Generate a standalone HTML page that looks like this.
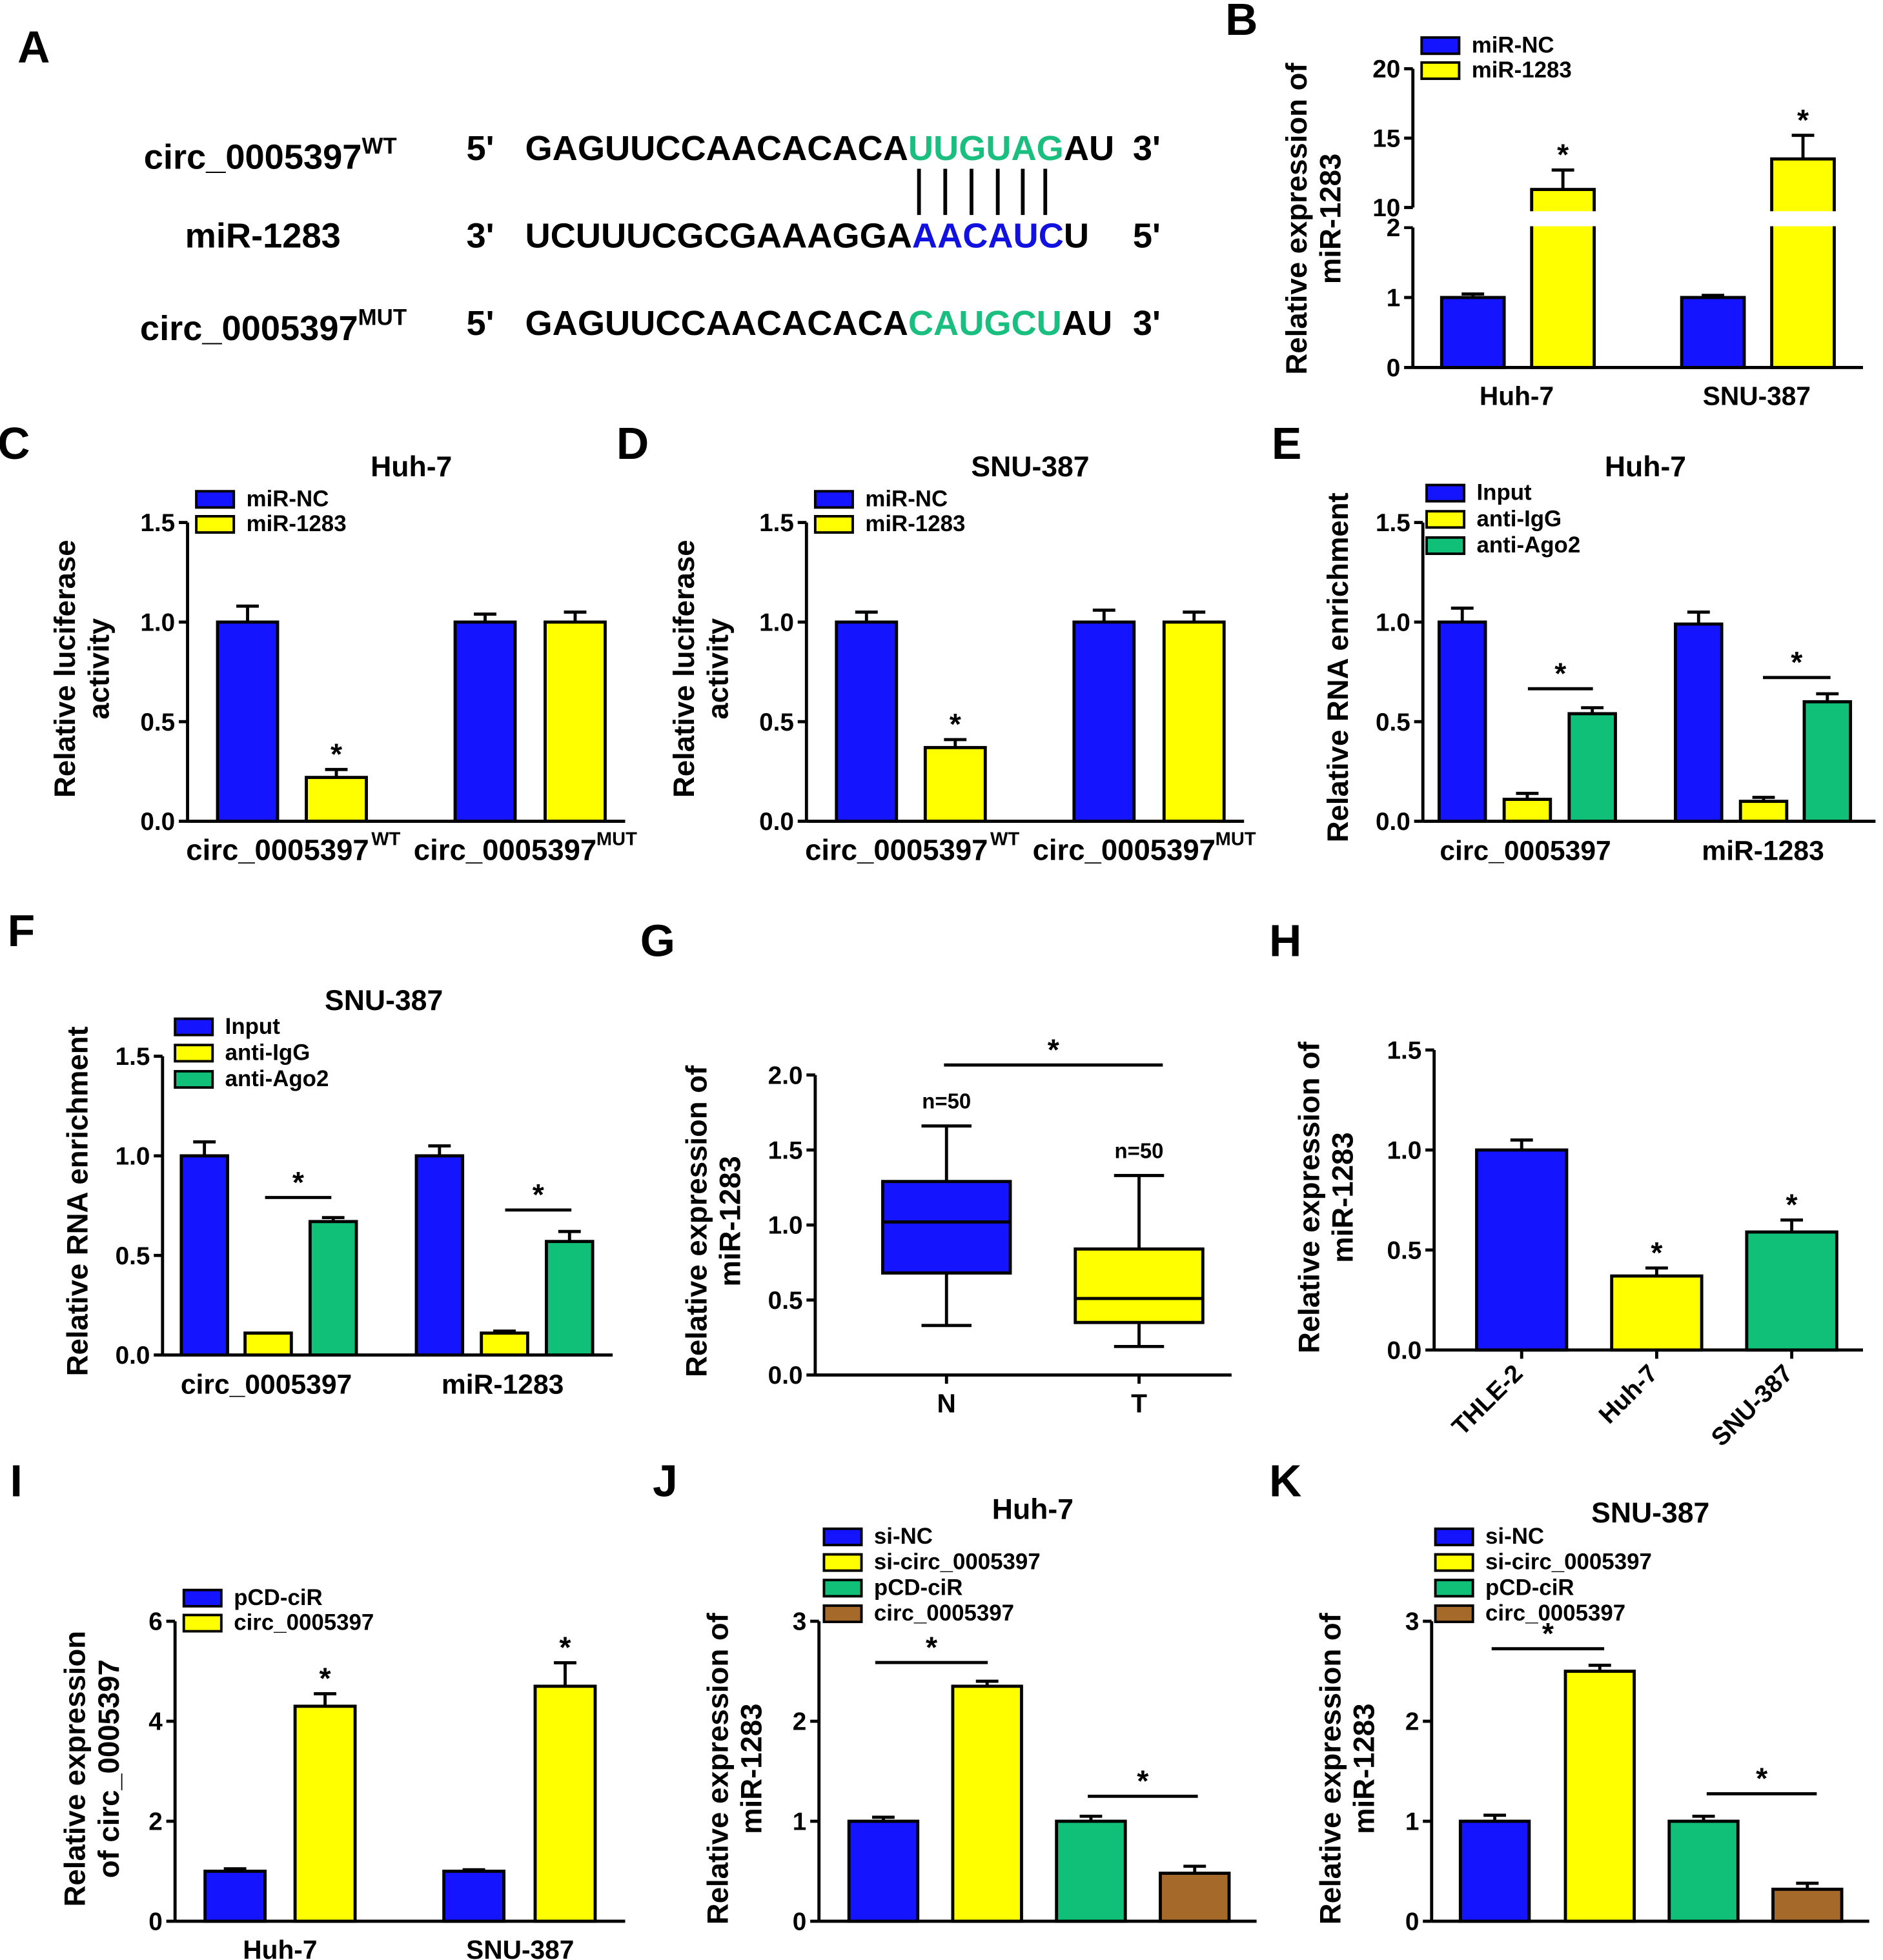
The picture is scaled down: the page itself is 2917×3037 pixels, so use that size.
<!DOCTYPE html>
<html><head><meta charset="utf-8"><style>
html,body{margin:0;padding:0;background:#fff}
svg{display:block;font-family:"Liberation Sans",Arial,sans-serif;font-weight:bold}
</style></head><body>
<svg id="fig" width="2917" height="3037" viewBox="0 0 1506 1568" preserveAspectRatio="none" xmlns="http://www.w3.org/2000/svg">
<g font-size="28">
<text x="14" y="50" font-size="36">A</text>
<text x="115" y="135">circ_0005397<tspan font-size="18" dy="-12">WT</tspan></text>
<text x="373" y="128">5'</text>
<text x="420" y="128">GAGUUCCAACACACA<tspan fill="#1abf80">UUGUAG</tspan>AU</text>
<text x="906" y="128">3'</text>
<text x="148" y="198">miR-1283</text>
<text x="373" y="198">3'</text>
<text x="420" y="198">UCUUUCGCGAAAGGA<tspan fill="#1010e0">AACAUC</tspan>U</text>
<text x="906" y="198">5'</text>
<text x="112" y="272">circ_0005397<tspan font-size="18" dy="-12">MUT</tspan></text>
<text x="373" y="268">5'</text>
<text x="420" y="268">GAGUUCCAACACACA<tspan fill="#1abf80">CAUGCU</tspan>AU</text>
<text x="906" y="268">3'</text>
<g stroke="#000" stroke-width="3">
<line x1="735" y1="135" x2="735" y2="172"/><line x1="756" y1="135" x2="756" y2="172"/><line x1="777" y1="135" x2="777" y2="172"/><line x1="798" y1="135" x2="798" y2="172"/><line x1="818" y1="135" x2="818" y2="172"/><line x1="836" y1="135" x2="836" y2="172"/>
</g>
</g>
</svg>
<script>
const B_vals=[1.0,11.3,1.0,13.5];const B_errs=[1.05,12.7,1.03,15.2];
const C_vals=[1.0,0.22,1.0,1.0];const C_errs=[1.08,0.26,1.04,1.05];
const D_vals=[1.0,0.37,1.0,1.0];const D_errs=[1.05,0.41,1.06,1.05];
const E_vals=[1.0,0.11,0.54,0.99,0.10,0.60];const E_errs=[1.07,0.14,0.57,1.05,0.12,0.64];
const F_vals=[1.0,0.11,0.67,1.0,0.11,0.57];const F_errs=[1.07,0.11,0.69,1.05,0.12,0.62];
const G_cats=["N","T"];const G_min=[0.33,0.19];const G_q1=[0.68,0.35];const G_med=[1.02,0.51];const G_q3=[1.29,0.84];const G_max=[1.66,1.33];
const H_cats=["THLE-2","Huh-7","SNU-387"];const H_vals=[1.0,0.37,0.59];const H_errs=[1.05,0.41,0.65];
const I_vals=[1.0,4.3,1.0,4.7];const I_errs=[1.05,4.55,1.03,5.17];
const J_vals=[1.0,2.35,1.0,0.48];const J_errs=[1.04,2.4,1.05,0.55];
const K_vals=[1.0,2.5,1.0,0.32];const K_errs=[1.06,2.56,1.05,0.38];
const yt15=["0.0","0.5","1.0","1.5"];const yt15v=[0,0.5,1,1.5];
const BLUE="#1414ff",YEL="#ffff00",GRN="#10bf78",BRN="#a5692a";
const svg=document.getElementById('fig');const NS="http://www.w3.org/2000/svg";
function el(tag,attrs,parent,text){const e=document.createElementNS(NS,tag);for(const k in attrs)e.setAttribute(k,attrs[k]);if(text!==undefined)e.textContent=text;(parent||svg).appendChild(e);return e;}
function panel(name){const g=el('g',{});return g;}
function txt(g,x,y,s,size,anchor,rot){const a={x:x,y:y,'font-size':size||19,'text-anchor':anchor||'middle'};if(rot)a.transform=`rotate(${rot} ${x} ${y})`;const t=el('text',a,g,s);return t;}
function yaxis(g,x,y0,y1,ticksV,ticksL,sc,name){
  const ax=el('line',{x1:x,y1:y0,x2:x,y2:y1,stroke:'#000','stroke-width':2.5},g);
  
  ticksV.forEach((v,i)=>{const y=sc(v);el('line',{x1:x-7,y1:y,x2:x,y2:y,stroke:'#000','stroke-width':2.5},g);const t=txt(g,x-10,y+7,ticksL[i],20,'end');});
}
function xaxis(g,x0,x1,y){const a=el('line',{x1:x0,y1:y,x2:x1,y2:y,stroke:'#000','stroke-width':2.5},g);}
function bars(g,xs,w,vals,errs,cols,sc,y0,name){
  vals.forEach((v,i)=>{const top=sc(v);
    const r=el('rect',{x:xs[i],y:top,width:w,height:y0-top,fill:cols[i],stroke:'#000','stroke-width':2.5},g);
    
    const cx=xs[i]+w/2,ey=sc(errs[i]);
    if(errs[i]>v){el('line',{x1:cx,y1:top,x2:cx,y2:ey,stroke:'#000','stroke-width':2.5},g);el('line',{x1:cx-9,y1:ey,x2:cx+9,y2:ey,stroke:'#000','stroke-width':2.5},g);}
  });
}
function star(g,x,y){const s=txt(g,x,y,'*',24);}
function sig(g,x0,x1,y){el('line',{x1:x0,y1:y,x2:x1,y2:y,stroke:'#000','stroke-width':2.5},g);star(g,(x0+x1)/2,y-4);}
function legend(g,x,y,labels,cols,dy){labels.forEach((l,i)=>{const r=el('rect',{x:x,y:y+i*dy-12,width:30,height:13,fill:cols[i],stroke:'#000','stroke-width':2},g);const t=txt(g,x+40,y+i*dy,l,18,'start');});}
function letter(g,s,x,y){txt(g,x,y,s,36,'start');}
function lin(y0,ytop,vmax){return v=>y0-(y0-ytop)*v/vmax;}
function ytitle(g,x,y,lines){lines.forEach((l,i)=>{const t=txt(g,x+i*27,y,l,23.5,'middle',-90);});}

// B (broken axis)
{const g=panel('panel-b');letter(g,'B',980,28);
 const lo=v=>294-56*v, hi=v=>166-(v-10)*11.1;
 const sc=v=>v<=2?lo(v):(v<10?176:hi(v));
 yaxis(g,1130,294,182,[0,1,2],['0','1','2'],lo);
 yaxis(g,1130,166,55,[10,15,20],['10','15','20'],hi);
 xaxis(g,1130,1490,294);
 bars(g,[1153,1225,1345,1417],50,B_vals,B_errs,[BLUE,YEL,BLUE,YEL],sc,294,'b');
 el('rect',{x:1120,y:169,width:360,height:12,fill:'#fff'},g);
 star(g,1250,sc(B_errs[1])-4);star(g,1442,sc(B_errs[3])-4);
 txt(g,1213,324,'Huh-7',21);txt(g,1405,324,'SNU-387',21);
 legend(g,1137,42,['miR-NC','miR-1283'],[BLUE,YEL],20);
 ytitle(g,1045,175,['Relative expression of','miR-1283']);}
// C, D
[['C',150,'Huh-7',C_vals,C_errs,0],['D',645,'SNU-387',D_vals,D_errs,495]].forEach(p=>{
 const [L,ax,title,vals,errs,off]=p;const g=panel('panel-'+L.toLowerCase());letter(g,L,-2+off,367);
 const sc=lin(657,418,1.5);yaxis(g,ax,657,418,yt15v,yt15,sc);xaxis(g,ax,500+off,657);
 const xs=[174+off,245+off,364+off,436+off];
 bars(g,xs,48,vals,errs,[BLUE,YEL,BLUE,YEL],sc,657,L);
 star(g,xs[1]+24,sc(errs[1])-4);
 txt(g,329+off,381,title,23);legend(g,157+off,405,['miR-NC','miR-1283'],[BLUE,YEL],20);
 txt(g,222+off,688,'circ_0005397',23.5);txt(g,297+off,676,'WT',15,'start');
 txt(g,404+off,688,'circ_0005397',23.5);txt(g,477+off,676,'MUT',15,'start');
 ytitle(g,60+off,535,['Relative luciferase','activity']);});
// E, F
[['E',1138,657,418,E_vals,E_errs,[1151,1203,1255,1340,1392,1443],[[1222,1274,551],[1410,1464,542]],'Huh-7',1316,1003,1220,1410,680,1138,1500],
 ['F',130,1084,845,F_vals,F_errs,[145,196,248,333,385,437],[[212,265,958],[404,457,968]],'SNU-387',307,0,213,402,1107,137,490]].forEach(p=>{
 const [L,ax,y0,yt,vals,errs,xs,sigs,title,tx,lx,c1,c2,ly,legx,xend]=p;const g=panel('panel-'+L.toLowerCase());
 letter(g,L,lx+(L==='E'?14:6),L==='E'?367:757);
 const sc=lin(y0,yt,1.5);yaxis(g,ax,y0,yt,yt15v,yt15,sc);xaxis(g,ax,xend,y0);
 bars(g,xs,37,vals,errs,[BLUE,YEL,GRN,BLUE,YEL,GRN],sc,y0,L);
 sigs.forEach(s=>sig(g,s[0],s[1],s[2]));
 txt(g,tx,y0-276,title,23);legend(g,legx+3,y0-257,['Input','anti-IgG','anti-Ago2'],[BLUE,YEL,GRN],21);
 txt(g,c1,ly+8,'circ_0005397',22);txt(g,c2,ly+8,'miR-1283',22);
 ytitle(g,L==='E'?1078:70,y0-123,['Relative RNA enrichment']);});
// G boxplot
{const g=panel('panel-g');letter(g,'G',512,765);
 const sc=lin(1100,860,2.0);yaxis(g,652,1100,860,[0,0.5,1,1.5,2],['0.0','0.5','1.0','1.5','2.0'],sc);xaxis(g,652,985,1100);
 const cx=[757,911],cols=[BLUE,YEL];
 G_cats.forEach((c,i)=>{
  el('line',{x1:cx[i],y1:sc(G_min[i]),x2:cx[i],y2:sc(G_max[i]),stroke:'#000','stroke-width':2.5},g);
  el('line',{x1:cx[i]-20,y1:sc(G_min[i]),x2:cx[i]+20,y2:sc(G_min[i]),stroke:'#000','stroke-width':2.5},g);
  el('line',{x1:cx[i]-20,y1:sc(G_max[i]),x2:cx[i]+20,y2:sc(G_max[i]),stroke:'#000','stroke-width':2.5},g);
  const b=el('rect',{x:cx[i]-51,y:sc(G_q3[i]),width:102,height:sc(G_q1[i])-sc(G_q3[i]),fill:cols[i],stroke:'#000','stroke-width':2.5},g);
  
  el('line',{x1:cx[i]-51,y1:sc(G_med[i]),x2:cx[i]+51,y2:sc(G_med[i]),stroke:'#000','stroke-width':2.5},g);
  txt(g,cx[i],sc(G_max[i])-14,'n=50',17);
  txt(g,cx[i],1130,c,21);
  el('line',{x1:cx[i],y1:1100,x2:cx[i],y2:1107,stroke:'#000','stroke-width':2.5},g);});
 sig(g,755,930,852);
 ytitle(g,565,977,['Relative expression of','miR-1283']);}
// H
{const g=panel('panel-h');letter(g,'H',1015,765);
 const sc=lin(1080,840,1.5);yaxis(g,1147,1080,840,yt15v,yt15,sc);xaxis(g,1147,1490,1080);
 const xs=[1181,1289,1397];bars(g,xs,72,H_vals,H_errs,[BLUE,YEL,GRN],sc,1080,'h');
 star(g,1325,sc(H_errs[1])-4);star(g,1433,sc(H_errs[2])-4);
 H_cats.forEach((c,i)=>{const x=xs[i]+36;el('line',{x1:x,y1:1080,x2:x,y2:1087,stroke:'#000','stroke-width':2.5},g);txt(g,x+2,1100,c,20,'end',-45);});
 ytitle(g,1055,958,['Relative expression of','miR-1283']);}
// I
{const g=panel('panel-i');letter(g,'I',8,1197);
 const sc=lin(1537,1297,6);yaxis(g,140,1537,1297,[0,2,4,6],['0','2','4','6'],sc);xaxis(g,140,500,1537);
 const xs=[164,236,355,428];bars(g,xs,48,I_vals,I_errs,[BLUE,YEL,BLUE,YEL],sc,1537,'i');
 star(g,260,sc(I_errs[1])-4);star(g,452,sc(I_errs[3])-4);
 txt(g,224,1567,'Huh-7',21);txt(g,416,1567,'SNU-387',21);
 legend(g,147,1284,['pCD-ciR','circ_0005397'],[BLUE,YEL],20);
 ytitle(g,68,1415,['Relative expression','of circ_0005397']);}
// J, K
[['J',655,[679,762,845,928],J_vals,J_errs,[[700,790,1330],[870,958,1437]],'Huh-7',826,522,582],
 ['K',1145,[1168,1252,1335,1418],K_vals,K_errs,[[1193,1283,1319],[1365,1453,1435]],'SNU-387',1320,1015,1072]].forEach(p=>{
 const [L,ax,xs,vals,errs,sigs,title,tx,lx,ytx]=p;const g=panel('panel-'+L.toLowerCase());letter(g,L,lx,1197);
 const sc=lin(1537,1297,3);yaxis(g,ax,1537,1297,[0,1,2,3],['0','1','2','3'],sc);xaxis(g,ax,ax+350,1537);
 bars(g,xs,55,vals,errs,[BLUE,YEL,GRN,BRN],sc,1537,L);
 sigs.forEach(s=>sig(g,s[0],s[1],s[2]));
 txt(g,tx,L==='J'?1215:1218,title,23);
 legend(g,xs[0]-20,1235,['si-NC','si-circ_0005397','pCD-ciR','circ_0005397'],[BLUE,YEL,GRN,BRN],20.5);
 ytitle(g,ytx,1415,['Relative expression of','miR-1283']);});
</script>
</body></html>
